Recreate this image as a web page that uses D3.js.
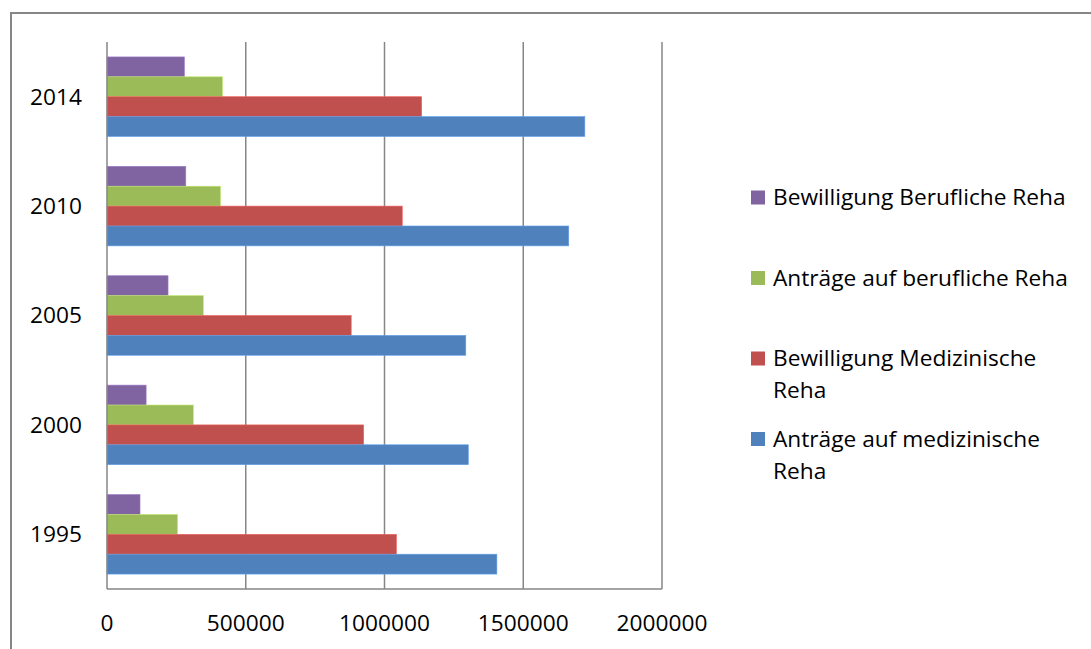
<!DOCTYPE html>
<html>
<head>
<meta charset="utf-8">
<script src="https://cdn.jsdelivr.net/npm/d3@7"></script>
<style>
  html, body { margin: 0; padding: 0; background: #fff; }
  svg { display: block; }
  text { font-family: "Open Sans", Lato, sans-serif; fill: #000; }
</style>
</head>
<body>
<svg id="chart" width="1091" height="649"></svg>
<script>
// ---- data ----
const categories = ["2014", "2010", "2005", "2000", "1995"];
const seriesNames = [
  "Bewilligung Berufliche Reha",
  "Anträge auf berufliche Reha",
  "Bewilligung Medizinische Reha",
  "Anträge auf medizinische Reha"
];
const seriesColors = ["#8064A2", "#9BBB59", "#C0504D", "#4F81BD"];
// values per category, in the order of `categories`
const bewilligungBeruflich = [279000, 284000, 220000, 141000, 119000];
const antraegeBeruflich    = [416000, 409000, 347000, 311000, 254000];
const bewilligungMedizin   = [1134000, 1064000, 880000, 925000, 1043000];
const antraegeMedizin      = [1722000, 1664000, 1293000, 1302000, 1405000];
const seriesValues = [bewilligungBeruflich, antraegeBeruflich, bewilligungMedizin, antraegeMedizin];
const xTicks = [0, 500000, 1000000, 1500000, 2000000];

// ---- layout ----
const svg = d3.select("#chart");
const plot = { left: 107, right: 662, top: 42, bottom: 589 };
const gray = "#868686";
const fontSize = 22.7;

// outer chart border (cropped at right/bottom)
svg.append("path")
  .attr("d", `M11,700 L11,13 L1100,13`)
  .attr("fill", "none").attr("stroke", gray).attr("stroke-width", 2);

const x = d3.scaleLinear().domain([0, 2000000]).range([plot.left, plot.right]);
const y0 = d3.scaleBand().domain(categories).range([plot.top, plot.bottom]).padding(0);
const y1 = d3.scaleBand().domain(d3.range(seriesNames.length))
  .range([0, y0.bandwidth()]).paddingInner(0).paddingOuter(0.75);

// gridlines
svg.append("g").selectAll("line").data(xTicks.slice(1)).join("line")
  .attr("x1", d => x(d)).attr("x2", d => x(d))
  .attr("y1", plot.top).attr("y2", plot.bottom)
  .attr("stroke", gray).attr("stroke-width", 1.5);

// bars
const groups = svg.append("g").selectAll("g").data(categories).join("g")
  .attr("transform", c => `translate(0,${y0(c)})`);
groups.selectAll("rect")
  .data((c, ci) => seriesValues.map((vals, si) => ({ si, v: vals[ci] })))
  .join("rect")
  .attr("x", x(0))
  .attr("y", d => y1(d.si))
  .attr("width", d => x(d.v) - x(0))
  .attr("height", y1.bandwidth())
  .attr("fill", d => seriesColors[d.si])
  .attr("stroke", d => d3.color(seriesColors[d.si]).brighter(0.6))
  .attr("stroke-width", 0.6);

// axes lines
svg.append("line").attr("x1", plot.left).attr("x2", plot.left)
  .attr("y1", plot.top).attr("y2", plot.bottom)
  .attr("stroke", gray).attr("stroke-width", 1.5);
svg.append("line").attr("x1", plot.left).attr("x2", plot.right)
  .attr("y1", plot.bottom).attr("y2", plot.bottom)
  .attr("stroke", gray).attr("stroke-width", 1.5);

// x tick labels
svg.append("g").selectAll("text").data(xTicks).join("text")
  .attr("x", d => x(d)).attr("y", 623).attr("dy", "0.35em")
  .attr("text-anchor", "middle").attr("font-size", fontSize)
  .text(d => d3.format("d")(d));

// category labels
svg.append("g").selectAll("text").data(categories).join("text")
  .attr("x", 82).attr("y", c => y0(c) + y0.bandwidth() / 2).attr("dy", "0.35em")
  .attr("text-anchor", "end").attr("font-size", fontSize)
  .text(c => c);

// legend
const legendX = 751, legendTop = 197.5, legendStep = 80.5, lineH = 32, maxW = 315;
const leg = svg.append("g").selectAll("g").data(seriesNames).join("g")
  .attr("transform", (d, i) => `translate(${legendX},${legendTop + i * legendStep})`);
leg.append("rect").attr("x", 0).attr("y", -7).attr("width", 14).attr("height", 14)
  .attr("fill", (d, i) => seriesColors[i]);
leg.each(function(name) {
  const t = d3.select(this).append("text").attr("x", 22).attr("y", 0)
    .attr("font-size", fontSize);
  const words = name.split(" ");
  let line = [], lineNo = 0;
  let tspan = t.append("tspan").attr("x", 22).attr("dy", "0.35em");
  words.forEach(w => {
    line.push(w);
    tspan.text(line.join(" "));
    if (tspan.node().getComputedTextLength() > maxW && line.length > 1) {
      line.pop();
      tspan.text(line.join(" "));
      line = [w];
      lineNo++;
      tspan = t.append("tspan").attr("x", 22).attr("y", lineNo * lineH).attr("dy", "0.35em").text(w);
    }
  });
});
</script>
</body>
</html>
